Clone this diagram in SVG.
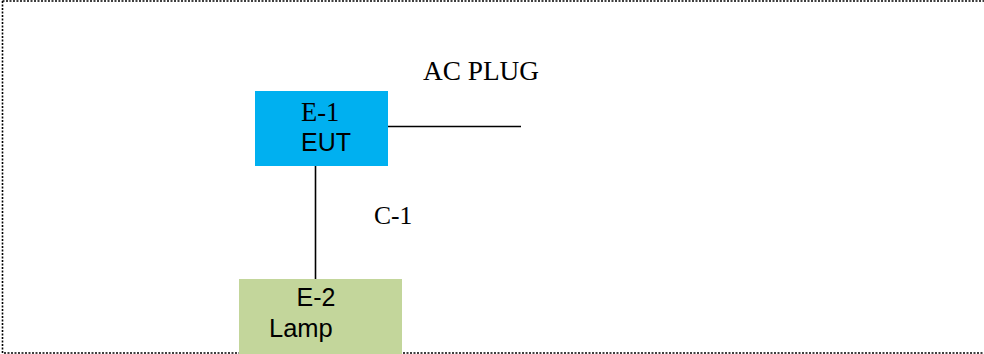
<svg xmlns="http://www.w3.org/2000/svg" width="984" height="354" viewBox="0 0 984 354">
<style>
.frame{fill:none;stroke:#000;stroke-width:1.6;stroke-dasharray:2 1.5}
.wire{fill:none;stroke:#000;stroke-width:1.6}
.serif{font-family:"Liberation Serif","Times New Roman",serif;fill:#000}
.sans{font-family:"Liberation Sans",Arial,sans-serif;fill:#000}
</style>
<rect width="984" height="354" fill="#fff"/>
<g id="frame">
<path class="frame" d="M2.5,1 H984"/>
<path class="frame" d="M2.5,1 V353 H984"/>
</g>
<g id="connectors">
<line class="wire" x1="388" y1="126.5" x2="521" y2="126.5"/>
<line class="wire" x1="315.5" y1="166" x2="315.5" y2="279"/>
</g>
<g id="e1">
<rect x="255" y="91" width="133" height="75" fill="#00B0F0"/>
<text class="serif" x="301" y="120.5" font-size="26.5">E-1</text>
<text class="sans" x="301" y="150.5" font-size="25">EUT</text>
</g>
<g id="e2">
<rect x="239" y="279" width="163" height="75" fill="#C3D69B"/>
<text class="sans" x="296.5" y="305.5" font-size="25">E-2</text>
<text class="sans" x="269" y="336.5" font-size="25.5">Lamp</text>
</g>
<g id="labels">
<text class="serif" x="423" y="80" font-size="27.3">AC PLUG</text>
<text class="serif" x="374" y="224" font-size="25.5">C-1</text>
</g>
</svg>
